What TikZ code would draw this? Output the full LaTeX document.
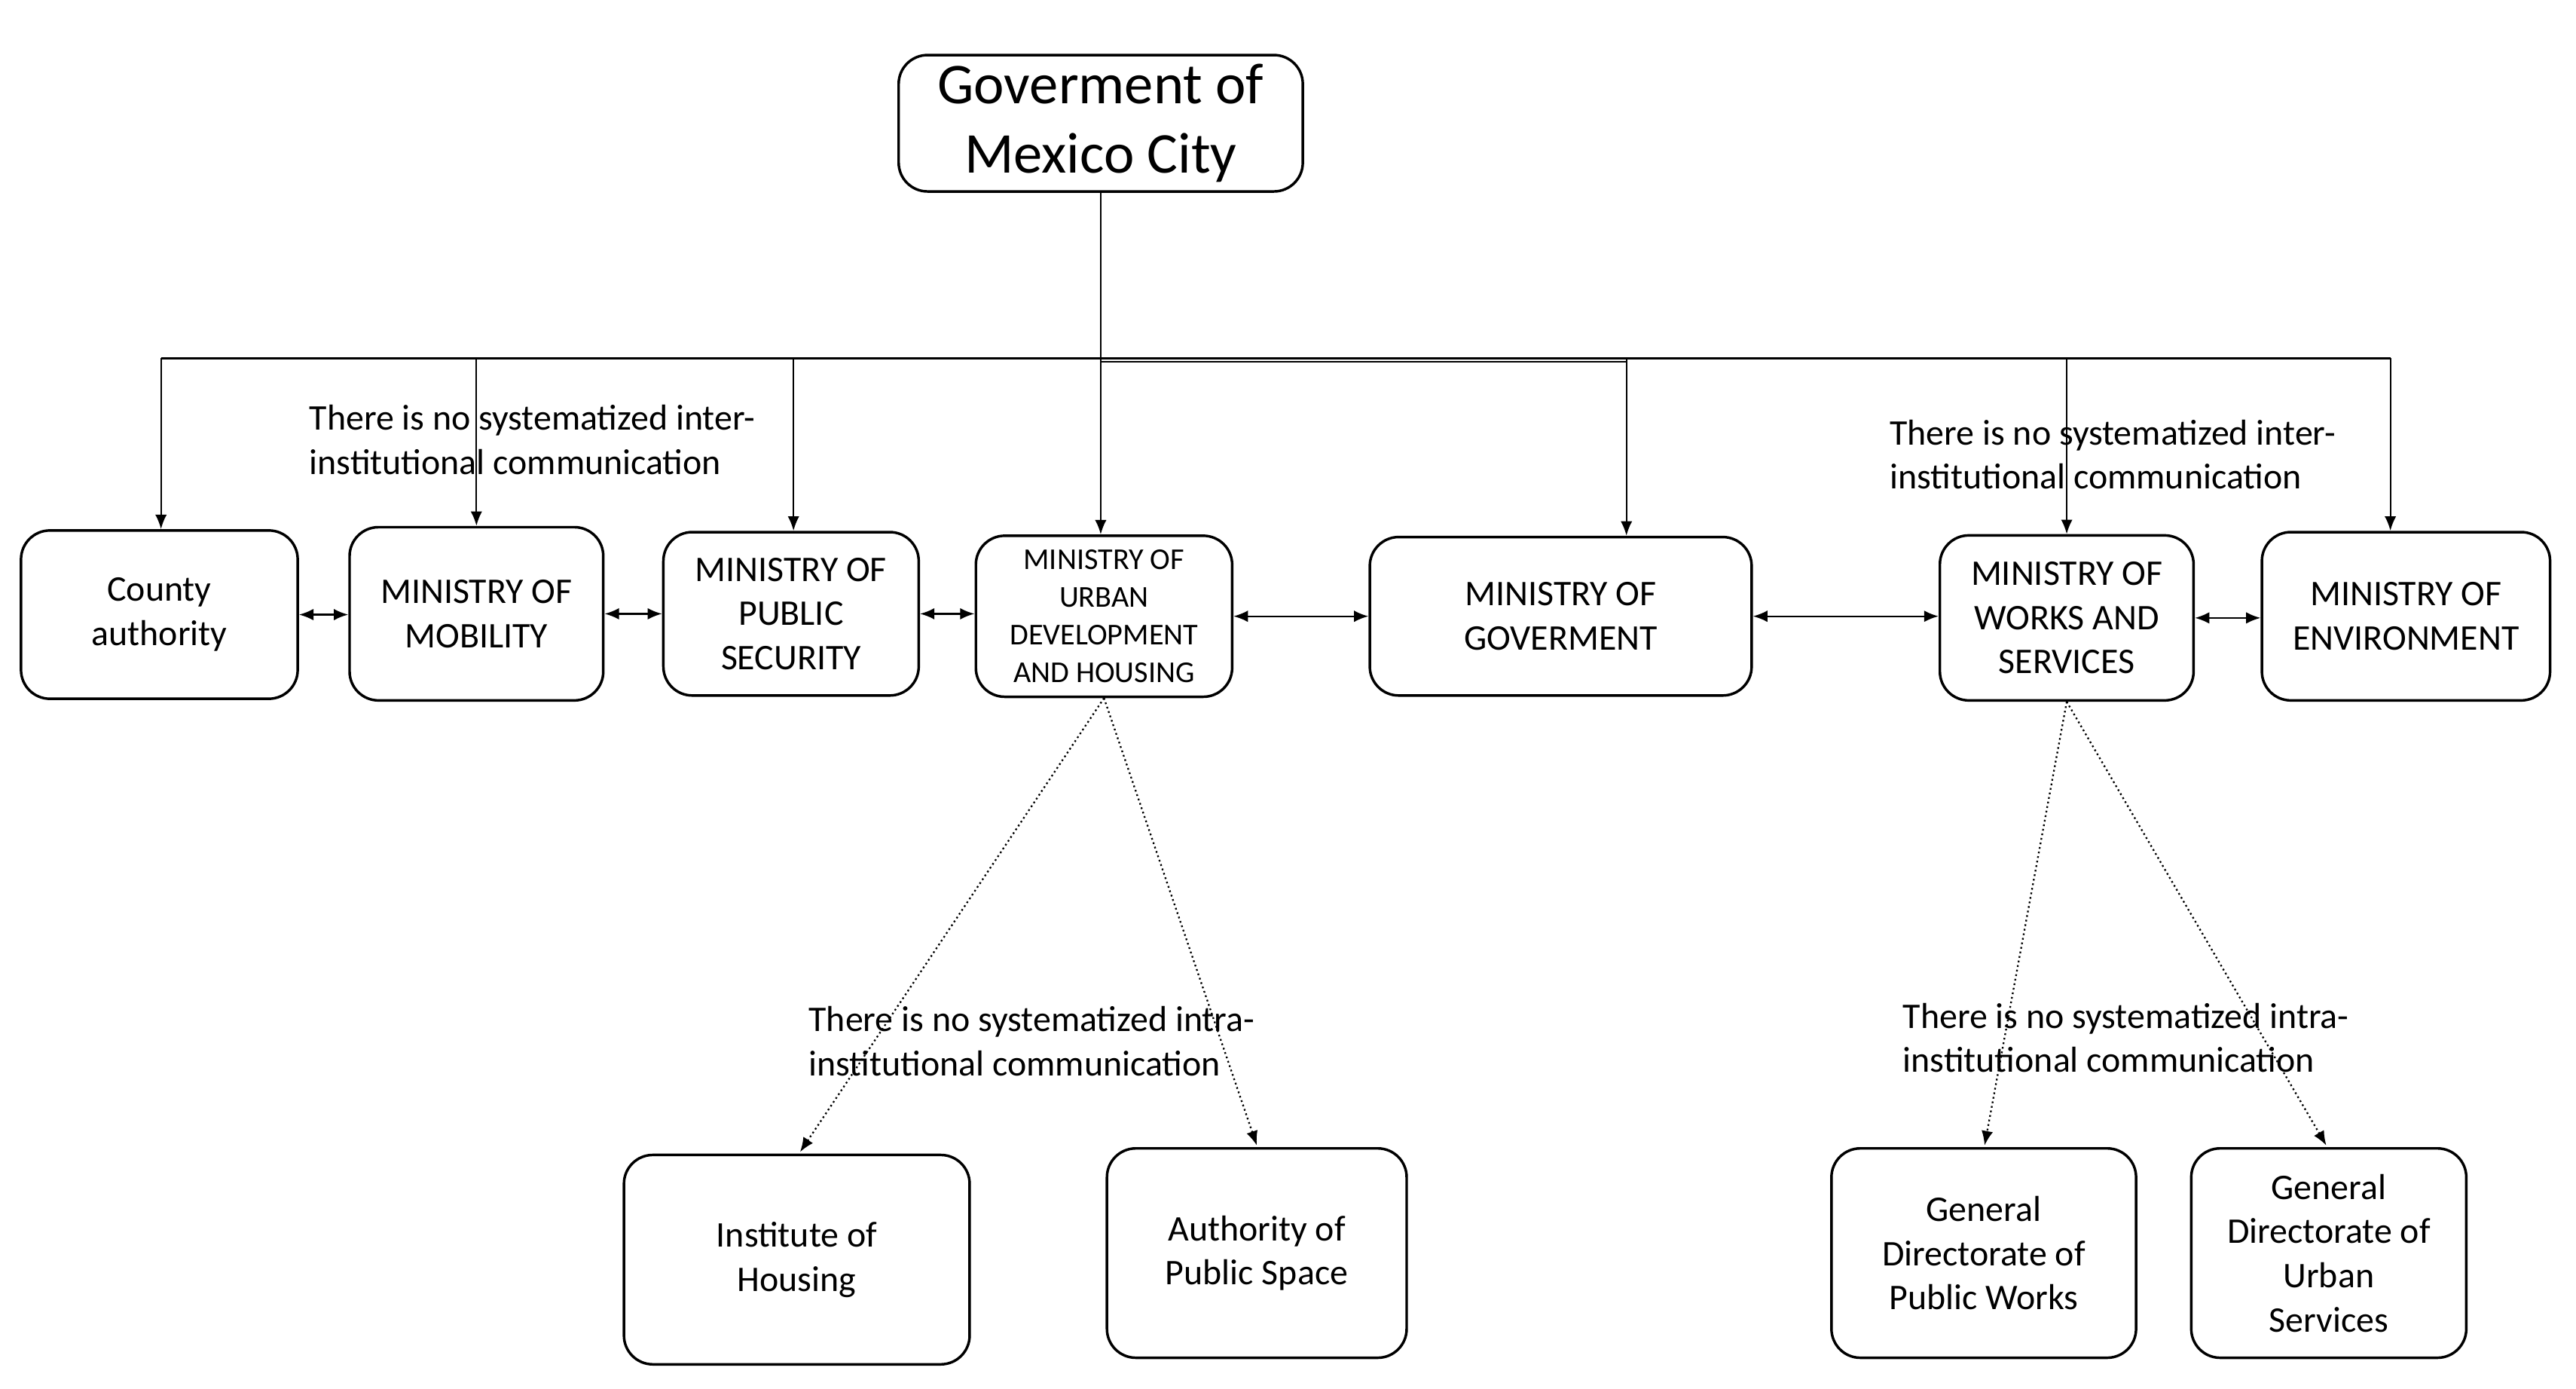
\documentclass[tikz,border=0pt]{standalone}
\usepackage{fontspec}
\setmainfont{Carlito}
\usetikzlibrary{arrows.meta}
\begin{document}
\begin{tikzpicture}[x=0.02cm,y=-0.02cm,
  box/.style={draw,rounded corners=10pt,line width=0.9pt,align=center,font=\fontsize{12.5}{15.3}\selectfont,inner sep=0pt},
  lab/.style={anchor=north west,align=left,font=\fontsize{12.5}{15.3}\selectfont,inner sep=0pt},
  arr/.style={-{Latex[length=5pt,width=4pt]},line width=0.6pt},
  barr/.style={{Latex[length=5pt,width=4pt]}-{Latex[length=5pt,width=4pt]},line width=0.6pt},
  darr/.style={arr,densely dotted}]
\useasboundingbox (0,0) rectangle (1568,845);
\newcommand\bx[6]{\node[box,minimum width=#4*0.02cm-0.9pt,minimum height=#5*0.02cm-0.9pt] (#1) at (#2,#3) {#6};}
\node[box,minimum width=246*0.02cm,minimum height=83*0.02cm,font=\fontsize{20}{24}\selectfont] (gov) at (670,75) {Goverment of\\Mexico City};
\bx{cty}{97}{374}{170}{104}{County\\authority}
\bx{mob}{290}{373.5}{156}{107}{MINISTRY OF\\MOBILITY}
\bx{sec}{481.5}{373.5}{157}{101}{MINISTRY OF\\PUBLIC\\SECURITY}
\node[box,minimum width=156*0.02cm,minimum height=98*0.02cm,font=\fontsize{10.5}{13}\selectfont] (urb) at (672,375) {MINISTRY OF\\URBAN\\DEVELOPMENT\\AND HOUSING};
\bx{gob}{950}{375}{234}{98}{MINISTRY OF\\GOVERMENT}
\bx{wrk}{1258}{376}{156}{102}{MINISTRY OF\\WORKS AND\\SERVICES}
\bx{env}{1464.5}{375}{177}{104}{MINISTRY OF\\ENVIRONMENT}
\bx{ins}{485}{766.5}{212}{129}{Institute of\\Housing}
\bx{aut}{765}{762.5}{184}{129}{Authority of\\Public Space}
\bx{gpw}{1207.5}{762.5}{187}{129}{General\\Directorate of\\Public Works}
\bx{gus}{1417.5}{762.5}{169}{129}{General\\Directorate of\\Urban\\Services}
\coordinate (j) at (670,218);
\draw[line width=0.6pt] (gov.south) -- (j);
\draw[line width=0.6pt] (98,218) -- (1455,218);
\draw[line width=0.6pt] (670,220) -- (990,220);
\foreach \n/\x in {cty/98,mob/290,sec/483,urb/670,gob/990,wrk/1258,env/1455}
  \draw[arr] (\x,218) -- (\x,0 |- \n.north);
\draw[barr] (cty.east) -- (cty.east -| mob.west);
\draw[barr] (mob.east) -- (mob.east -| sec.west);
\draw[barr] (sec.east) -- (sec.east -| urb.west);
\draw[barr] (urb.east) -- (urb.east -| gob.west);
\draw[barr] (gob.east) -- (gob.east -| wrk.west);
\draw[barr] (wrk.east) -- (wrk.east -| env.west);
\draw[darr] (urb.south) -- (487,701);
\draw[darr] (urb.south) -- (765,697);
\draw[darr] (wrk.south) -- (1208,697);
\draw[darr] (wrk.south) -- (1416,697);
\node[lab] (l1) at (188,246) {There is no systematized inter-\\institutional communication};
\node[lab] (l2) at (1150,255) {There is no systematized inter-\\institutional communication};
\node[lab] (l3) at (492,612) {There is no systematized intra-\\institutional communication};
\node[lab] (l4) at (1158,610) {There is no systematized intra-\\institutional communication};
\end{tikzpicture}
\end{document}
